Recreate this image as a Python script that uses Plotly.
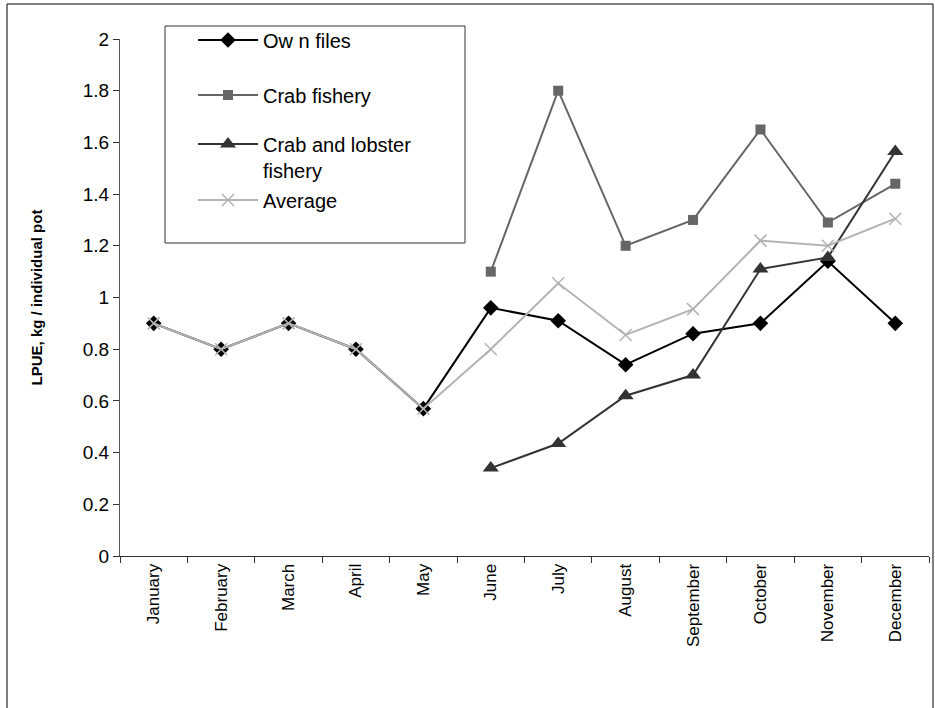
import plotly.graph_objects as go

# Monthly LPUE (kg per individual pot) from three sources and their average
months = ["January", "February", "March", "April", "May", "June",
          "July", "August", "September", "October", "November", "December"]
own_files = [0.90, 0.80, 0.90, 0.80, 0.57, 0.96, 0.91, 0.74, 0.86, 0.90, 1.14, 0.90]
crab_fishery = [None, None, None, None, None, 1.10, 1.80, 1.20, 1.30, 1.65, 1.29, 1.44]
crab_lobster = [None, None, None, None, None, 0.34, 0.435, 0.62, 0.70, 1.11, 1.155, 1.565]
average = [0.90, 0.80, 0.90, 0.80, 0.57, 0.80, 1.055, 0.855, 0.955, 1.22, 1.20, 1.305]

y_ticks = [0, 0.2, 0.4, 0.6, 0.8, 1, 1.2, 1.4, 1.6, 1.8, 2]
y_tick_text = ["0", "0.2", "0.4", "0.6", "0.8", "1", "1.2", "1.4", "1.6", "1.8", "2"]

FONT = "Liberation Sans, Arial, sans-serif"

W, H = 935, 708
L, R, T, B = 120, 6, 39, 152
plot_w = W - L - R
plot_h = H - T - B


def px_x(px):
    return (px - L) / plot_w


def px_y(py):
    return (H - B - py) / plot_h


fig = go.Figure()

fig.add_trace(go.Scatter(
    x=months, y=own_files, name="Ow n files", mode="lines+markers",
    line=dict(color="#000000", width=2),
    marker=dict(symbol="diamond", size=12, color="#000000"),
    legend="legend",
))
fig.add_trace(go.Scatter(
    x=months, y=crab_fishery, name="Crab fishery", mode="lines+markers",
    line=dict(color="#666666", width=2),
    marker=dict(symbol="square", size=10, color="#666666"),
    legend="legend2",
))
fig.add_trace(go.Scatter(
    x=months, y=crab_lobster, name="Crab and lobster<br>fishery", mode="lines+markers",
    line=dict(color="#333333", width=2),
    marker=dict(symbol="triangle-up", size=14, color="#333333"),
    legend="legend3",
))
fig.add_trace(go.Scatter(
    x=months, y=average, name="Average", mode="lines+markers",
    line=dict(color="#b3b3b3", width=2),
    marker=dict(symbol="x-thin-open", size=12, color="#b3b3b3",
                line=dict(color="#b3b3b3", width=1.5)),
    legend="legend4",
))

legend_common = dict(
    font=dict(family=FONT, size=20, color="#000000"),
    bgcolor="rgba(0,0,0,0)", borderwidth=0,
    itemwidth=60, xanchor="left", yanchor="middle",
    valign="top",
)
lx = px_x(193)
fig.update_layout(
    legend=dict(x=lx, y=px_y(40), **legend_common),
    legend2=dict(x=lx, y=px_y(95), **legend_common),
    legend3=dict(x=lx, y=px_y(157), **legend_common),
    legend4=dict(x=lx, y=px_y(200), **legend_common),
)

fig.update_layout(
    width=W, height=H,
    margin=dict(l=L, r=R, t=T, b=B, autoexpand=False),
    paper_bgcolor="white", plot_bgcolor="white",
    showlegend=True,
    font=dict(family=FONT, color="#000000"),
    xaxis=dict(
        type="category", categoryorder="array", categoryarray=months,
        range=[-0.5, 11.5], showgrid=False, zeroline=False,
        showline=True, linecolor="#333333", linewidth=1,
        ticks="outside", tickson="boundaries", ticklen=6,
        tickcolor="#333333", tickwidth=1,
        tickangle=-90, tickfont=dict(family=FONT, size=17, color="#000000"),
        automargin=False,
    ),
    yaxis=dict(
        range=[0, 2], tickvals=y_ticks, ticktext=y_tick_text,
        showgrid=False, zeroline=False,
        showline=True, linecolor="#555555", linewidth=1,
        ticks="outside", ticklen=6, tickcolor="#333333", tickwidth=1,
        tickfont=dict(family=FONT, size=19, color="#000000"),
        title=dict(text="<b>LPUE, kg / individual pot</b>",
                   font=dict(family=FONT, size=15, color="#000000"),
                   standoff=36),
        automargin=False,
    ),
    shapes=[
        # outer frame around the chart area
        dict(type="rect", xref="paper", yref="paper",
             x0=px_x(7), x1=px_x(933), y0=px_y(712), y1=px_y(4),
             line=dict(color="#000000", width=1), fillcolor="rgba(0,0,0,0)",
             layer="below"),
        # legend frame
        dict(type="rect", xref="paper", yref="paper",
             x0=px_x(165), x1=px_x(465), y0=px_y(243), y1=px_y(26),
             line=dict(color="#333333", width=1), fillcolor="white",
             layer="below"),
    ],
)

fig.write_html("out.html")
